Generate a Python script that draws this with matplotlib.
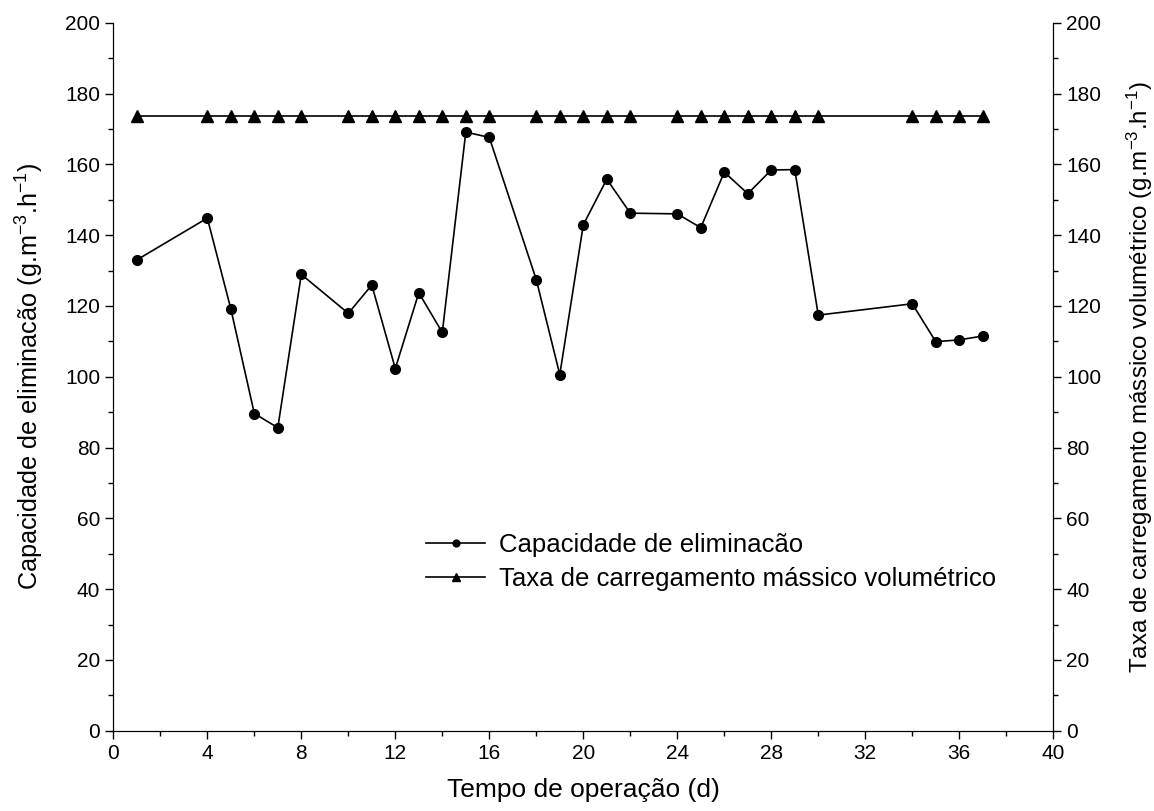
import matplotlib
matplotlib.use("Agg")
import matplotlib.pyplot as plt
from matplotlib.ticker import MultipleLocator

plt.rcParams['font.family'] = ['Liberation Sans', 'DejaVu Sans']
plt.rcParams['mathtext.fontset'] = 'custom'
plt.rcParams['mathtext.rm'] = 'Liberation Sans'
plt.rcParams['mathtext.it'] = 'Liberation Sans'

# dias de operacao
dias = [1, 4, 5, 6, 7, 8, 10, 11, 12, 13, 14, 15, 16, 18, 19, 20, 21, 22,
        24, 25, 26, 27, 28, 29, 30, 34, 35, 36, 37]

# capacidade de eliminacao (g.m-3.h-1)
ce = [133.0, 144.8, 119.2, 89.6, 85.6, 128.9, 117.9, 125.9, 102.3, 123.7,
      112.5, 169.1, 167.6, 127.4, 100.6, 142.9, 155.8, 146.2, 146.0, 142.1,
      157.8, 151.7, 158.4, 158.5, 117.4, 120.6, 109.9, 110.4, 111.5]

# taxa de carregamento massico volumetrico (g.m-3.h-1)
tcmv = [173.6] * len(dias)

fig = plt.figure(figsize=(11.54, 8.11), dpi=100)
ax1 = fig.add_axes([0.0982, 0.099, 0.8145, 0.873])
ax2 = ax1.twinx()

l1, = ax1.plot(dias, ce, color='black', lw=1.2, marker='o', ms=7,
               label='Capacidade de eliminacão')
l2, = ax2.plot(dias, tcmv, color='black', lw=1.2, marker='^', ms=8.5,
               label='Taxa de carregamento mássico volumétrico')

for ax in (ax1, ax2):
    ax.set_xlim(0, 40)
    ax.set_ylim(0, 200)
    ax.yaxis.set_major_locator(MultipleLocator(20))
    ax.yaxis.set_minor_locator(MultipleLocator(10))
    ax.spines['top'].set_visible(False)
    ax.tick_params(which='major', direction='out', length=6, width=1,
                   labelsize=15)
    ax.tick_params(which='minor', direction='out', length=3.5, width=1)

ax1.xaxis.set_major_locator(MultipleLocator(4))
ax1.xaxis.set_minor_locator(MultipleLocator(2))

ax1.set_xlabel('Tempo de operação (d)', fontsize=19, labelpad=11)
ax1.set_ylabel('Capacidade de eliminacão (g.m$^{-3}$.h$^{-1}$)', fontsize=18.2,
               labelpad=14)
ax2.set_ylabel('Taxa de carregamento mássico volumétrico (g.m$^{-3}$.h$^{-1}$)',
               fontsize=17.4, labelpad=17)

ax1.legend(handles=[l1, l2], loc='upper left', bbox_to_anchor=(0.3327, 0.2793),
           frameon=False, fontsize=18.5, borderpad=0, borderaxespad=0,
           handlelength=2.3, handletextpad=0.55, labelspacing=0.4,
           markerscale=0.7)

fig.savefig('out.png', dpi=100)
